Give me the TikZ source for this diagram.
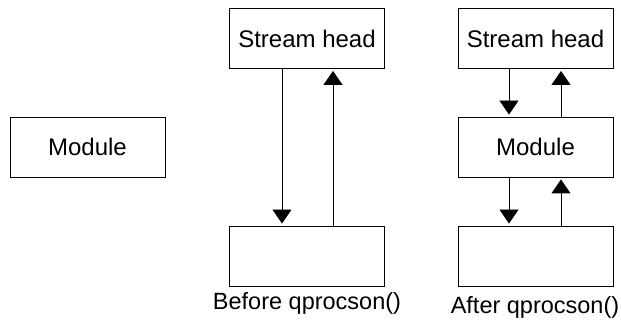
\documentclass[tikz,border=0pt]{standalone}
\usepackage{fontspec}
\setmainfont{Liberation Sans}
\usetikzlibrary{arrows.meta}
\begin{document}
\begin{tikzpicture}[x=1pt,y=-1pt,
  box/.style={draw,line width=0.9pt,minimum width=155pt,minimum height=60pt,inner sep=0pt,font=\fontsize{24}{28}\selectfont},
  lab/.style={inner sep=0pt,font=\fontsize{23.5}{28}\selectfont,anchor=base},
  conn/.style={line width=0.9pt,-{Triangle[width=19pt,length=14pt]},shorten >=2pt}]
\useasboundingbox (0,0) rectangle (621,320);
\node[box] (lm) at (87.5,147) {Module};
\node[box] (bsh) at (307,38.5) {Stream head};
\node[box] (bb) at (307,256) {};
\node[box] (ash) at (535.5,38.5) {Stream head};
\node[box] (am) at (535.5,147) {Module};
\node[box] (ab) at (535.5,256) {};
\draw[conn] (bsh.south -| 282,0) -- (bb.north -| 282,0);
\draw[conn] (bb.north -| 333,0) -- (bsh.south -| 333,0);
\draw[conn] (ash.south -| 509,0) -- (am.north -| 509,0);
\draw[conn] (am.north -| 561,0) -- (ash.south -| 561,0);
\draw[conn] (am.south -| 509,0) -- (ab.north -| 509,0);
\draw[conn] (ab.north -| 561,0) -- (am.south -| 561,0);
\node[lab] (lb) at (307,309) {Before qprocson()};
\node[lab] (la) at (535,313) {After qprocson()};
\end{tikzpicture}
\end{document}
